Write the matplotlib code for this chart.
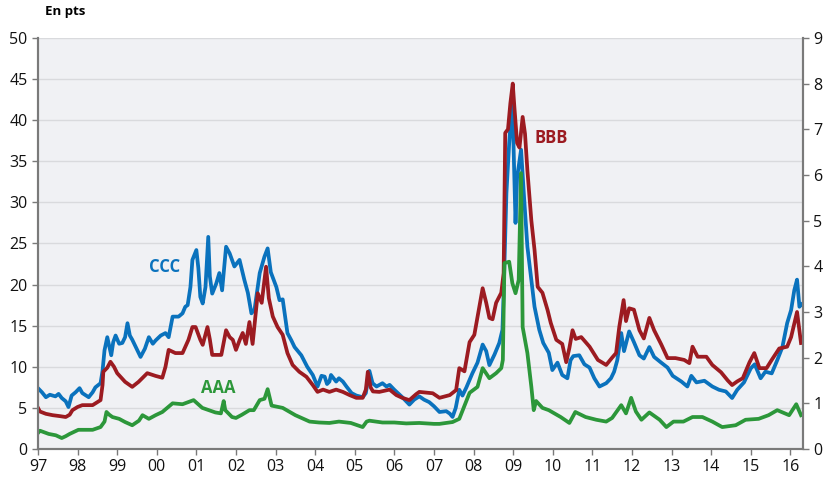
import matplotlib
matplotlib.use("Agg")
import matplotlib.pyplot as plt

plt.rcParams['font.family'] = ['Open Sans', 'DejaVu Sans']

# CCC spread (left axis, pts)
ccc_t = [1997.00, 1997.10, 1997.20, 1997.30, 1997.44, 1997.52, 1997.60, 1997.70, 1997.77, 1997.85,
         1997.95, 1998.05, 1998.12, 1998.28, 1998.38, 1998.45, 1998.58, 1998.63, 1998.68, 1998.75,
         1998.80, 1998.85, 1998.90, 1998.96, 1999.05, 1999.13, 1999.20, 1999.26, 1999.32, 1999.38,
         1999.48, 1999.59, 1999.70, 1999.80, 1999.90, 1999.97, 2000.10, 2000.22, 2000.30, 2000.40,
         2000.55, 2000.65, 2000.72, 2000.78, 2000.85, 2000.90, 2001.00, 2001.05, 2001.10, 2001.16,
         2001.23, 2001.30, 2001.34, 2001.40, 2001.50, 2001.58, 2001.65, 2001.75, 2001.84, 2001.96,
         2002.09, 2002.21, 2002.30, 2002.39, 2002.47, 2002.55, 2002.60, 2002.72, 2002.80, 2002.88,
         2003.02, 2003.10, 2003.18, 2003.30, 2003.40, 2003.48, 2003.65, 2003.80, 2003.94, 2004.06,
         2004.16, 2004.24, 2004.30, 2004.36, 2004.40, 2004.53, 2004.60, 2004.70, 2004.79, 2004.92,
         2005.04, 2005.20, 2005.28, 2005.37, 2005.45, 2005.55, 2005.70, 2005.80, 2005.88, 2006.00,
         2006.20, 2006.38, 2006.50, 2006.63, 2006.75, 2006.88, 2007.00, 2007.14, 2007.31, 2007.40,
         2007.47, 2007.55, 2007.64, 2007.72, 2007.82, 2007.97, 2008.10, 2008.23, 2008.32, 2008.40,
         2008.53, 2008.65, 2008.73, 2008.76, 2008.83, 2008.90, 2008.98, 2009.02, 2009.06, 2009.10,
         2009.20, 2009.28, 2009.36, 2009.46, 2009.54, 2009.66, 2009.76, 2009.90, 2009.99, 2010.12,
         2010.24, 2010.37, 2010.45, 2010.52, 2010.67, 2010.80, 2010.93, 2011.05, 2011.18, 2011.35,
         2011.47, 2011.55, 2011.63, 2011.73, 2011.80, 2011.93, 2012.05, 2012.19, 2012.30, 2012.44,
         2012.56, 2012.74, 2012.90, 2013.03, 2013.25, 2013.40, 2013.50, 2013.63, 2013.83, 2014.03,
         2014.20, 2014.37, 2014.53, 2014.66, 2014.83, 2015.00, 2015.10, 2015.25, 2015.37, 2015.53,
         2015.67, 2015.80, 2015.92, 2016.02, 2016.10, 2016.17, 2016.23, 2016.28]
ccc = [7.4, 6.9, 6.3, 6.6, 6.4, 6.7, 6.2, 5.8, 5.1, 6.5,
       6.9, 7.4, 6.8, 6.3, 6.9, 7.5, 8.0, 9.5, 12.0, 13.6,
       12.5, 11.4, 13.0, 13.8, 12.8, 12.9, 13.6, 15.3, 13.8, 13.3,
       12.3, 11.2, 12.2, 13.6, 12.8, 13.2, 13.8, 14.1, 13.6, 16.1,
       16.1, 16.5, 17.3, 17.5, 19.7, 23.0, 24.2, 22.0, 18.5, 17.7,
       19.7, 25.8, 21.0, 18.9, 20.1, 21.4, 19.3, 24.6, 23.8, 22.2,
       23.0, 20.6, 19.0, 16.5, 17.0, 19.7, 21.4, 23.4, 24.4, 21.5,
       19.7, 18.1, 18.2, 14.1, 13.2, 12.4, 11.4, 10.0, 9.0, 7.6,
       8.9, 8.8, 7.9, 8.2, 9.0, 8.2, 8.6, 8.2, 7.6, 6.8,
       6.5, 6.3, 6.8, 9.5, 8.0, 7.6, 8.0, 7.6, 7.8, 7.2,
       6.3, 5.4, 6.0, 6.4, 6.0, 5.7, 5.2, 4.5, 4.6, 4.3,
       3.9, 5.0, 7.2, 6.5, 7.5, 9.2, 10.5, 12.7, 11.9, 10.2,
       11.5, 12.9, 14.5, 19.0, 31.1, 37.2, 42.5, 35.2, 27.5, 33.0,
       36.4, 30.3, 24.6, 20.6, 17.3, 14.5, 12.9, 11.7, 9.6, 10.5,
       9.0, 8.6, 10.8, 11.3, 11.4, 10.3, 9.9, 8.6, 7.6, 8.0,
       8.6, 9.4, 10.8, 14.1, 11.9, 14.3, 13.0, 11.4, 11.0, 12.4,
       11.2, 10.5, 9.9, 8.9, 8.2, 7.6, 8.9, 8.1, 8.3, 7.6,
       7.2, 7.0, 6.2, 7.2, 8.1, 9.8, 10.3, 8.6, 9.4, 9.2,
       10.8, 12.4, 15.3, 16.9, 19.3, 20.6, 17.3, 17.6]

# BBB spread (right axis)
bbb_t = [1997.00, 1997.05, 1997.20, 1997.37, 1997.55, 1997.70, 1997.80, 1997.87, 1998.00, 1998.12,
         1998.38, 1998.58, 1998.63, 1998.65, 1998.75, 1998.83, 1998.92, 1999.00, 1999.20, 1999.38,
         1999.54, 1999.76, 1999.97, 2000.14, 2000.22, 2000.30, 2000.47, 2000.65, 2000.80, 2000.90,
         2000.98, 2001.10, 2001.16, 2001.28, 2001.34, 2001.40, 2001.63, 2001.75, 2001.84, 2001.92,
         2002.00, 2002.10, 2002.17, 2002.25, 2002.34, 2002.42, 2002.55, 2002.65, 2002.76, 2002.83,
         2002.93, 2003.05, 2003.18, 2003.30, 2003.43, 2003.60, 2003.78, 2003.94, 2004.06, 2004.20,
         2004.36, 2004.53, 2004.70, 2004.87, 2005.04, 2005.20, 2005.28, 2005.33, 2005.40, 2005.46,
         2005.62, 2005.88, 2006.05, 2006.20, 2006.38, 2006.55, 2006.63, 2006.97, 2007.14, 2007.40,
         2007.56, 2007.64, 2007.77, 2007.90, 2008.02, 2008.10, 2008.23, 2008.32, 2008.40, 2008.48,
         2008.57, 2008.70, 2008.76, 2008.80, 2008.87, 2008.93, 2008.99, 2009.03, 2009.10, 2009.16,
         2009.24, 2009.30, 2009.36, 2009.46, 2009.54, 2009.62, 2009.74, 2009.87, 2009.95, 2010.09,
         2010.24, 2010.34, 2010.42, 2010.50, 2010.58, 2010.72, 2010.93, 2011.14, 2011.35, 2011.50,
         2011.60, 2011.68, 2011.79, 2011.85, 2011.93, 2012.05, 2012.19, 2012.30, 2012.44, 2012.56,
         2012.74, 2012.90, 2013.10, 2013.32, 2013.45, 2013.53, 2013.66, 2013.88, 2014.03, 2014.25,
         2014.42, 2014.53, 2014.66, 2014.80, 2014.97, 2015.09, 2015.22, 2015.40, 2015.53, 2015.72,
         2015.92, 2016.02, 2016.17, 2016.27]
bbb = [0.90, 0.82, 0.77, 0.74, 0.72, 0.70, 0.75, 0.85, 0.92, 0.96,
       0.96, 1.07, 1.40, 1.69, 1.78, 1.91, 1.80, 1.66, 1.47, 1.36,
       1.47, 1.66, 1.60, 1.56, 1.80, 2.17, 2.10, 2.10, 2.39, 2.67,
       2.67, 2.39, 2.28, 2.67, 2.40, 2.06, 2.06, 2.60, 2.45, 2.39,
       2.17, 2.40, 2.54, 2.30, 2.78, 2.30, 3.41, 3.20, 3.99, 3.30,
       2.90, 2.67, 2.50, 2.10, 1.84, 1.69, 1.58, 1.40, 1.25, 1.30,
       1.25, 1.30, 1.25, 1.18, 1.12, 1.12, 1.30, 1.69, 1.35, 1.26,
       1.25, 1.30, 1.18, 1.12, 1.07, 1.20, 1.25, 1.22, 1.12, 1.18,
       1.29, 1.77, 1.70, 2.34, 2.50, 2.89, 3.52, 3.20, 2.87, 2.84,
       3.20, 3.42, 3.85, 6.92, 7.00, 7.57, 8.00, 7.50, 6.70, 6.60,
       7.27, 6.90, 6.10, 5.00, 4.36, 3.55, 3.42, 3.04, 2.76, 2.39,
       2.30, 1.90, 2.21, 2.60, 2.41, 2.45, 2.24, 1.95, 1.84, 2.00,
       2.10, 2.67, 3.26, 2.80, 3.08, 3.05, 2.60, 2.42, 2.87, 2.60,
       2.29, 1.99, 1.99, 1.95, 1.88, 2.24, 2.02, 2.02, 1.84, 1.68,
       1.50, 1.40, 1.48, 1.55, 1.90, 2.10, 1.77, 1.77, 1.95, 2.20,
       2.24, 2.45, 3.00, 2.32]

# AAA spread (right axis)
aaa_t = [1997.00, 1997.05, 1997.27, 1997.45, 1997.60, 1997.70, 1997.80, 1998.02, 1998.38, 1998.58,
         1998.68, 1998.73, 1998.80, 1998.88, 1999.05, 1999.20, 1999.38, 1999.55, 1999.64, 1999.80,
         1999.97, 2000.14, 2000.40, 2000.65, 2000.93, 2001.15, 2001.48, 2001.62, 2001.69, 2001.73,
         2001.90, 2002.00, 2002.15, 2002.34, 2002.45, 2002.60, 2002.72, 2002.80, 2002.90, 2003.18,
         2003.50, 2003.86, 2004.10, 2004.36, 2004.60, 2004.90, 2005.20, 2005.30, 2005.37, 2005.70,
         2006.00, 2006.30, 2006.63, 2007.00, 2007.14, 2007.47, 2007.64, 2007.90, 2008.10, 2008.23,
         2008.40, 2008.57, 2008.70, 2008.74, 2008.78, 2008.90, 2008.98, 2009.06, 2009.14, 2009.20,
         2009.24, 2009.36, 2009.46, 2009.52, 2009.58, 2009.74, 2009.90, 2010.20, 2010.42, 2010.57,
         2010.83, 2011.10, 2011.35, 2011.50, 2011.73, 2011.85, 2011.98, 2012.10, 2012.24, 2012.44,
         2012.70, 2012.87, 2013.05, 2013.30, 2013.53, 2013.78, 2014.03, 2014.28, 2014.62, 2014.87,
         2015.20, 2015.45, 2015.67, 2015.97, 2016.15, 2016.27]
aaa = [0.35, 0.40, 0.33, 0.30, 0.24, 0.28, 0.33, 0.42, 0.42, 0.48,
       0.60, 0.81, 0.75, 0.70, 0.66, 0.59, 0.52, 0.62, 0.74, 0.66,
       0.74, 0.81, 1.00, 0.98, 1.07, 0.90, 0.80, 0.78, 1.05, 0.85,
       0.70, 0.68, 0.75, 0.85, 0.85, 1.07, 1.10, 1.31, 0.95, 0.90,
       0.74, 0.60, 0.58, 0.57, 0.60, 0.57, 0.48, 0.60, 0.62, 0.58,
       0.58, 0.56, 0.57, 0.55, 0.55, 0.59, 0.66, 1.23, 1.36, 1.77,
       1.55, 1.66, 1.77, 1.95, 4.07, 4.10, 3.63, 3.41, 3.70, 6.04,
       2.67, 2.10, 1.36, 0.85, 1.05, 0.90, 0.85, 0.70, 0.57, 0.81,
       0.70, 0.64, 0.60, 0.68, 0.96, 0.78, 1.12, 0.82, 0.64, 0.80,
       0.64, 0.48, 0.60, 0.60, 0.70, 0.70, 0.60, 0.48, 0.52, 0.64,
       0.66, 0.74, 0.85, 0.74, 0.98, 0.74]

years = list(range(1997, 2017))
blue = '#0a72bd'
red = '#9c1b21'
green = '#2c973a'
grey = '#7a7a7a'

fig = plt.figure(figsize=(8.24, 4.80), dpi=100)
ax = fig.add_axes([0.0461, 0.0646, 0.9284, 0.8564])
ax2 = ax.twinx()

ax.set_facecolor('#f0f1f4')
ax.set_axisbelow(True)
ax.yaxis.grid(True, color='#d9dadd', lw=1.0)

ax.plot(ccc_t, ccc, color=blue, lw=2.7, solid_joinstyle='round')
ax2.plot(bbb_t, bbb, color=red, lw=2.7, solid_joinstyle='round')
ax2.plot(aaa_t, aaa, color=green, lw=2.7, solid_joinstyle='round')

ax.set_xlim(1997, 2016.32)
ax.set_ylim(0, 50)
ax2.set_ylim(0, 9)
ax.set_yticks(range(0, 51, 5))
ax2.set_yticks(range(0, 10))
ax.set_xticks(years)
ax.set_xticklabels([f"{y % 100:02d}" for y in years])

for a in (ax, ax2):
    for s in a.spines.values():
        s.set_color(grey)
        s.set_linewidth(1.5)
    a.spines['top'].set_visible(False)
    a.tick_params(colors=grey, labelcolor='#111111', labelsize=11.5, length=4, width=1)
ax.tick_params(axis='x', pad=3)

ax.text(2000.19, 22.1, 'CCC', color=blue, fontsize=12, fontweight='bold', ha='center', va='center')
ax.text(2001.56, 7.4, 'AAA', color=green, fontsize=12, fontweight='bold', ha='center', va='center')
ax.text(2009.97, 37.8, 'BBB', color=red, fontsize=12, fontweight='bold', ha='center', va='center')

fig.text(0.0546, 0.975, 'En pts', fontsize=9.5, fontweight='bold', ha='left', va='center')

fig.savefig('out.png', dpi=100)
